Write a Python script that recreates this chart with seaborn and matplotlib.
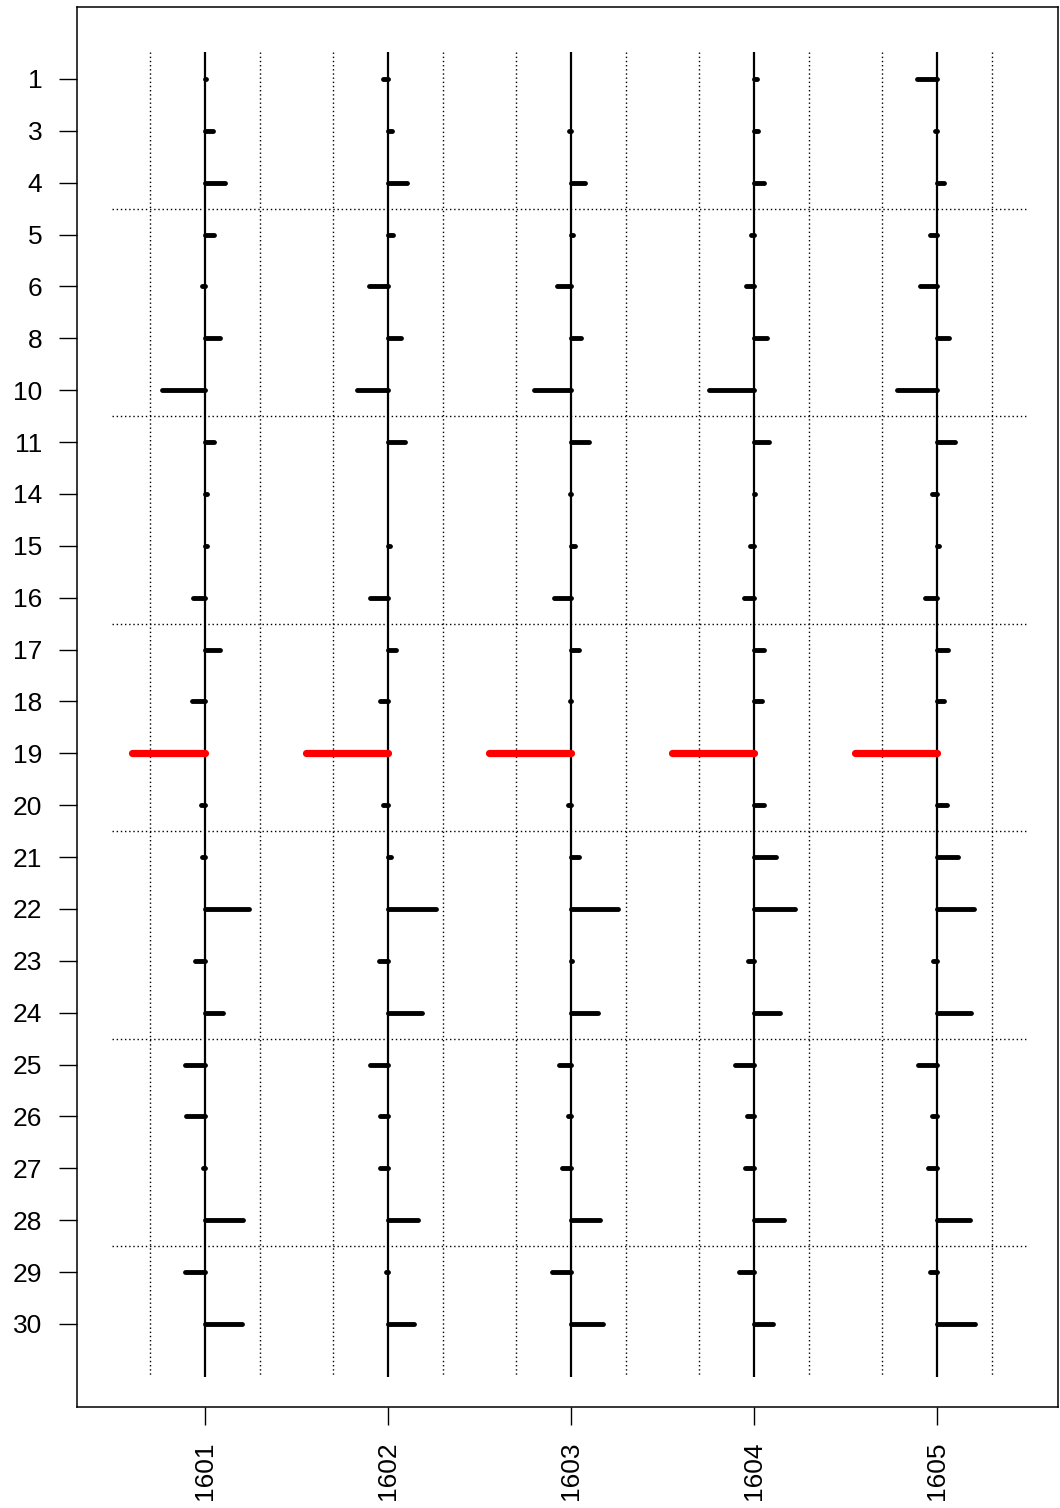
import matplotlib
matplotlib.use("Agg")
import matplotlib.pyplot as plt
import pandas as pd
import seaborn as sns

# Row labels (top to bottom) and site columns
row_labels = [1, 3, 4, 5, 6, 8, 10, 11, 14, 15, 16, 17, 18, 19, 20,
              21, 22, 23, 24, 25, 26, 27, 28, 29, 30]
sites = ["1601", "1602", "1603", "1604", "1605"]
highlight_row = 19

# Deviation per row for each site (units of the dotted reference lines)
v1601 = [0.02, 0.15, 0.36, 0.16, -0.06, 0.27, -0.78, 0.16, 0.04, 0.04,
         -0.21, 0.28, -0.24, -1.33, -0.07, -0.055, 0.80, -0.18, 0.33, -0.36,
         -0.35, -0.04, 0.69, -0.36, 0.68]
v1602 = [-0.09, 0.08, 0.34, 0.085, -0.35, 0.24, -0.56, 0.32, 0.01, 0.04,
         -0.32, 0.15, -0.15, -1.50, -0.085, 0.055, 0.88, -0.16, 0.62, -0.33,
         -0.15, -0.145, 0.55, -0.04, 0.48]
v1603 = [0.01, -0.04, 0.25, 0.03, -0.25, 0.19, -0.68, 0.32, -0.025, 0.07,
         -0.31, 0.145, -0.01, -1.50, -0.05, 0.15, 0.85, 0.02, 0.50, -0.22,
         -0.05, -0.17, 0.53, -0.35, 0.59]
v1604 = [0.055, 0.065, 0.19, -0.055, -0.15, 0.24, -0.82, 0.28, 0.025, -0.07,
         -0.19, 0.19, 0.145, -1.50, 0.19, 0.40, 0.75, -0.10, 0.47, -0.35,
         -0.12, -0.16, 0.55, -0.27, 0.34]
v1605 = [-0.36, -0.04, 0.13, -0.13, -0.31, 0.22, -0.72, 0.32, -0.10, 0.03,
         -0.21, 0.20, 0.12, -1.50, 0.18, 0.38, 0.68, -0.07, 0.62, -0.35,
         -0.10, -0.16, 0.61, -0.13, 0.70]
series = [v1601, v1602, v1603, v1604, v1605]

# Positions of the horizontal group separators (between rows)
group_breaks = [2.5, 6.5, 10.5, 14.5, 18.5, 22.5]

sns.set_theme(style="white")
plt.rcParams["font.family"] = ["Liberation Sans", "DejaVu Sans"]

scale = 0.3  # horizontal width of one unit, in column spacings

records = []
for ci, (site, vals) in enumerate(zip(sites, series)):
    for ri, (lab, v) in enumerate(zip(row_labels, vals)):
        seg = f"{site}-{lab}"
        grp = "hi" if lab == highlight_row else "base"
        records.append(dict(seg=seg, grp=grp, x=ci, y=ri))
        records.append(dict(seg=seg, grp=grp, x=ci + v * scale, y=ri))
df = pd.DataFrame(records)

fig = plt.figure(figsize=(10.6, 15.08), dpi=100)
ax = fig.add_axes([0.0726, 0.067, 0.9255, 0.9284])

ncol = len(sites)
y_lo, y_hi = -0.52, 25.02
dot = (0, (1, 2))

# dotted reference lines
for ci in range(ncol):
    ax.vlines([ci - scale, ci + scale], y_lo, y_hi, colors="black",
              linestyles=dot, linewidth=1.0, zorder=1)
ax.hlines(group_breaks, -0.508, ncol - 0.51, colors="black",
          linestyles=dot, linewidth=1.0, zorder=1)

# site baselines
ax.vlines(range(ncol), y_lo, y_hi, colors="black", linewidth=1.6, zorder=2)

# deviation bars
sns.lineplot(data=df[df.grp == "base"], x="x", y="y", units="seg",
             estimator=None, sort=False, color="black", linewidth=3.5,
             solid_capstyle="round", legend=False, ax=ax, zorder=3)
sns.lineplot(data=df[df.grp == "hi"], x="x", y="y", units="seg",
             estimator=None, sort=False, color="#ff0000", linewidth=5.2,
             solid_capstyle="round", legend=False, ax=ax, zorder=4)

ax.set_xlim(-0.699, 4.661)
ax.set_ylim(25.6, -1.388)
ax.set_xlabel("")
ax.set_ylabel("")

ax.set_yticks(range(len(row_labels)))
ax.set_yticklabels([str(r) for r in row_labels])
ax.set_xticks(range(ncol))
ax.set_xticklabels(sites, rotation=90)

ax.tick_params(axis="both", which="major", bottom=True, left=True,
               direction="out", length=13, width=1.0, color="black",
               labelcolor="black", labelsize=19)
ax.tick_params(axis="y", pad=12)
ax.tick_params(axis="x", pad=12)

for sp in ax.spines.values():
    sp.set_visible(True)
    sp.set_color("black")
    sp.set_linewidth(1.1)

fig.savefig("out.png", dpi=100, facecolor="white")
